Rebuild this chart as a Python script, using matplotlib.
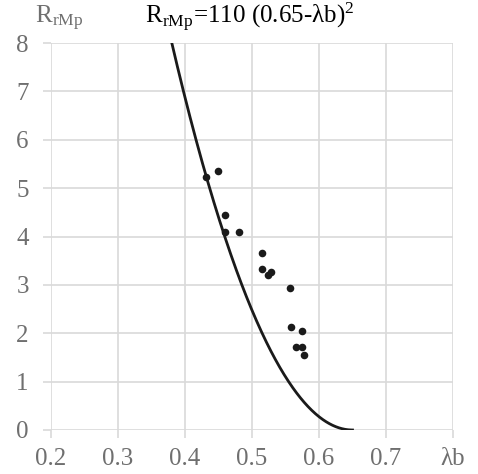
import numpy as np
import matplotlib.pyplot as plt

plt.rcParams['font.family'] = ['Liberation Serif', 'DejaVu Serif']
plt.rcParams['mathtext.fontset'] = 'stix'

# measured points (lambda_b, R_rMp)
lam = [0.431, 0.450, 0.460, 0.460, 0.481, 0.515, 0.515, 0.528, 0.524,
       0.557, 0.558, 0.575, 0.566, 0.574, 0.577]
R = [5.23, 5.36, 4.44, 4.10, 4.09, 3.66, 3.33, 3.27, 3.20,
     2.93, 2.13, 2.05, 1.72, 1.72, 1.56]

xticks = [0.2, 0.3, 0.4, 0.5, 0.6, 0.7, 0.8]
xlabels = ['0.2', '0.3', '0.4', '0.5', '0.6', '0.7', 'λb']
yticks = [0, 1, 2, 3, 4, 5, 6, 7, 8]

grid_c = '#d9d9d9'
text_c = '#6f6f6f'

fig = plt.figure(figsize=(4.78, 4.74), dpi=100)
ax = fig.add_axes([51/478, 44/474, 402/478, 387/474])

# fitted curve R = 110 (0.65 - lb)^2
xc = np.linspace(0.37, 0.65, 300)
yc = 110 * (0.65 - xc)**2
ax.plot(xc, yc, color='#1a1a1a', lw=2.0, zorder=3)

ax.scatter(lam, R, s=30, color='#1a1a1a', zorder=4, linewidths=0)

ax.set_xlim(0.2, 0.8)
ax.set_ylim(0, 8)
ax.set_xticks(xticks)
ax.set_xticklabels(xlabels)
ax.set_yticks(yticks)
ax.grid(True, color=grid_c, lw=1.2)
ax.set_axisbelow(True)
for s in ax.spines.values():
    s.set_visible(False)
ax.tick_params(axis='both', colors=grid_c, labelcolor=text_c, labelsize=18,
               length=6, width=1.2)
ax.tick_params(axis='x', pad=7)
ax.tick_params(axis='y', pad=10)
for lab in ax.get_xticklabels() + ax.get_yticklabels():
    lab.set_fontfamily(['Liberation Serif', 'DejaVu Serif'])

fig.text(250/478, 1 - 17/474,
         r'R$_{\mathregular{rMp}}$=110 (0.65-λb)$^{\mathregular{2}}$',
         ha='center', va='center', fontsize=18, color='black')
fig.text(35/478, 1 - 18/474, r'R$_{\mathregular{rMp}}$',
         ha='left', va='center', fontsize=18, color=text_c)

fig.savefig('out.png', dpi=100)
